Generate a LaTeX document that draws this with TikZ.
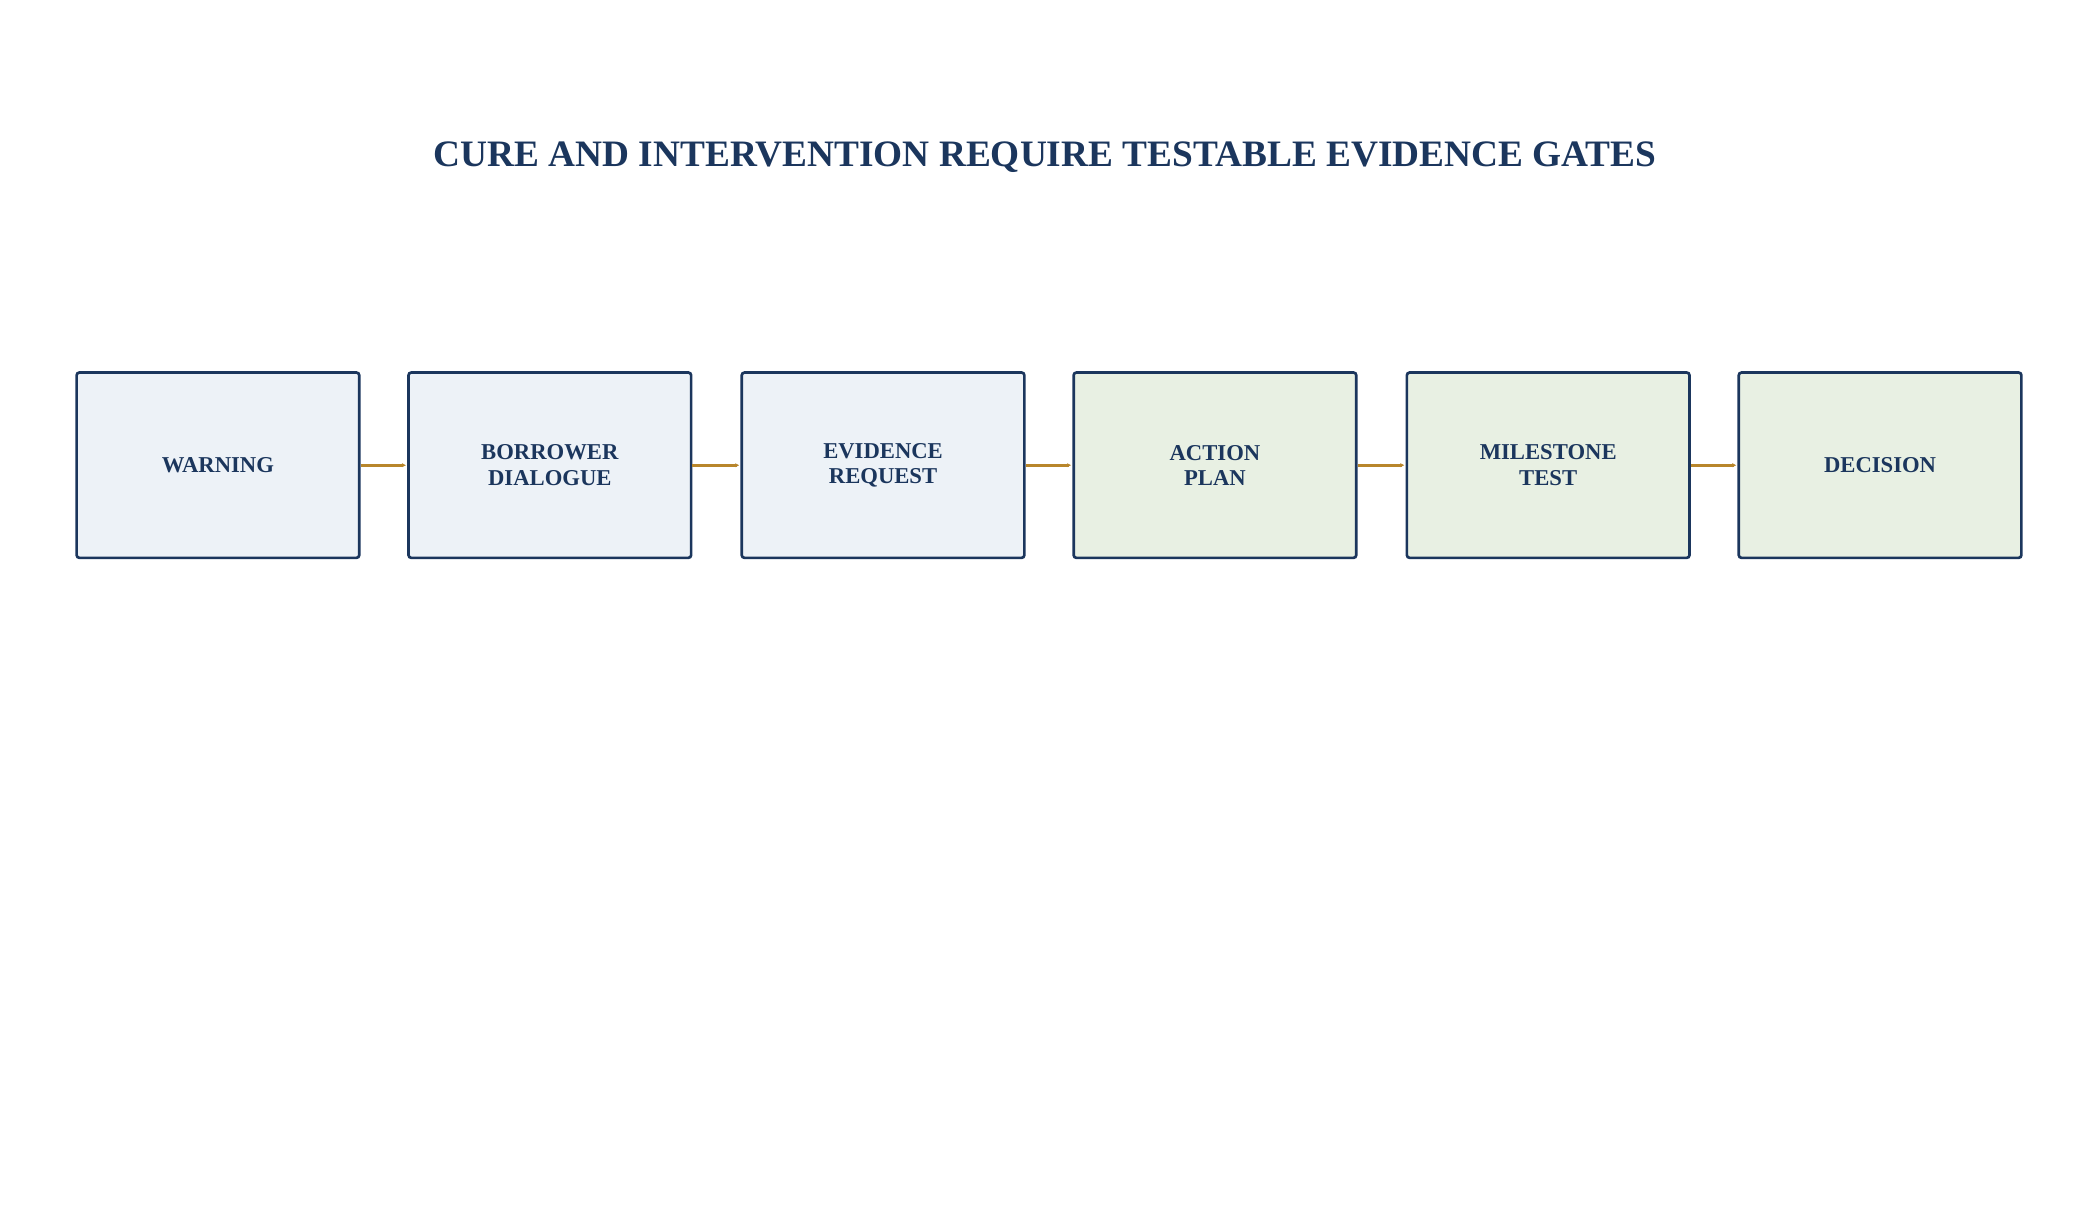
\documentclass[tikz,border=0pt]{standalone}
\usepackage{fontspec}
\setmainfont{Liberation Serif}
\usetikzlibrary{arrows.meta}
\definecolor{navy}{HTML}{1B365D}
\definecolor{bluefill}{HTML}{EDF2F7}
\definecolor{greenfill}{HTML}{E8F0E3}
\definecolor{gold}{HTML}{B8862B}
\begin{document}
\begin{tikzpicture}[x=1pt,y=-1pt,
  box/.style={draw=navy,line width=2pt,rounded corners=2pt,minimum width=212pt,minimum height=139pt,inner sep=0pt,
    font=\fontsize{17}{19}\selectfont\bfseries,text=navy,align=center},
  blue/.style={box,fill=bluefill},
  green/.style={box,fill=greenfill},
  link/.style={draw=gold,line width=2pt,-{Stealth[length=3pt,width=3pt]},shorten >=1pt}]
\useasboundingbox (0,0) rectangle (1568,922);
\node (title) at (784,118) {\fontsize{28}{28}\selectfont\bfseries\color{navy}CURE AND INTERVENTION REQUIRE TESTABLE EVIDENCE GATES};
\node[blue] (a) at (163.5,349) {WARNING};
\node[blue] (b) at (412.5,349) {BORROWER\\DIALOGUE};
\node[blue] (c) at (662.5,349) {EVIDENCE\\REQUEST};
\node[green] (d) at (911.5,349) {ACTION\\PLAN};
\node[green] (e) at (1161.5,349) {MILESTONE\\TEST};
\node[green] (f) at (1410.5,349) {DECISION};
\draw[link] (a) -- (b);
\draw[link] (b) -- (c);
\draw[link] (c) -- (d);
\draw[link] (d) -- (e);
\draw[link] (e) -- (f);
\end{tikzpicture}
\end{document}
